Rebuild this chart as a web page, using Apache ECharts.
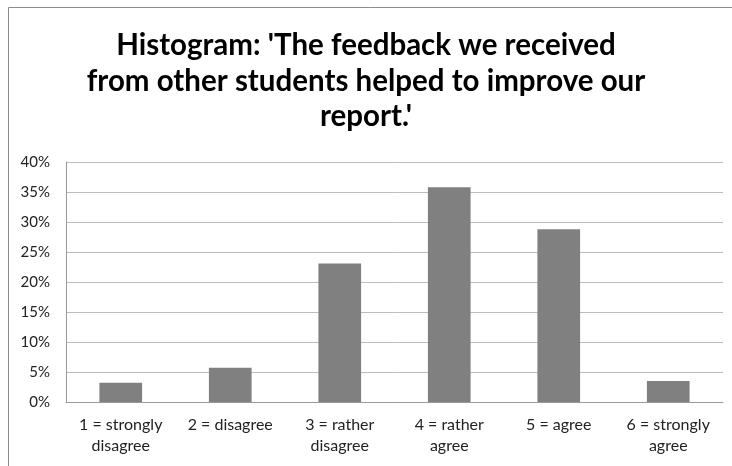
<!DOCTYPE html>
<html>
<head>
<meta charset="utf-8">
<script src="https://cdn.jsdelivr.net/npm/echarts@6/dist/echarts.min.js"></script>
<style>
  html, body { margin: 0; padding: 0; background: #fff; }
  #main { width: 732px; height: 466px; }
</style>
</head>
<body>
<div id="main"></div>
<script>
const categories = ['1 = strongly\ndisagree', '2 = disagree', '3 = rather\ndisagree', '4 = rather\nagree', '5 = agree', '6 = strongly\nagree'];
const shares = [3.2, 5.7, 23.1, 35.8, 28.8, 3.5];
const yTicks = [0, 5, 10, 15, 20, 25, 30, 35, 40];

var chart = echarts.init(document.getElementById('main'));
var option = {
    animation: false,
    title: {
        text: "Histogram: 'The feedback we received\nfrom other students helped to improve our\nreport.'",
        left: 'center',
        top: 23,
        textStyle: {
            fontFamily: 'Lato',
            fontWeight: 'bold',
            fontSize: 29.5,
            lineHeight: 35.5,
            color: '#000'
        }
    },
    // chart frame (only top and left edges are inside the picture)
    graphic: [
        { type: 'line', shape: { x1: 8.5, y1: 7.5, x2: 732, y2: 7.5 }, style: { stroke: '#8c8c8c', lineWidth: 1 } },
        { type: 'line', shape: { x1: 8.5, y1: 7.5, x2: 8.5, y2: 466 }, style: { stroke: '#8c8c8c', lineWidth: 1 } }
    ],
    grid: { left: 66, right: 9, top: 162, bottom: 64 },
    xAxis: {
        type: 'category',
        data: categories,
        axisTick: { show: false },
        axisLine: { lineStyle: { color: '#999' } },
        axisLabel: {
            fontFamily: 'Lato',
            fontSize: 16,
            lineHeight: 21,
            color: '#222',
            margin: 12,
            interval: 0
        }
    },
    yAxis: {
        type: 'value',
        min: yTicks[0],
        max: yTicks[yTicks.length - 1],
        interval: 5,
        axisLine: { show: true, lineStyle: { color: '#999' } },
        axisTick: { show: false },
        splitLine: { lineStyle: { color: '#bcbcbc' } },
        axisLabel: {
            formatter: '{value}%',
            fontFamily: 'Lato',
            fontSize: 15,
            color: '#222',
            margin: 16
        }
    },
    series: [{
        type: 'bar',
        data: shares,
        barWidth: '39%',
        itemStyle: { color: '#808080' }
    }]
};
chart.setOption(option);
</script>
</body>
</html>
